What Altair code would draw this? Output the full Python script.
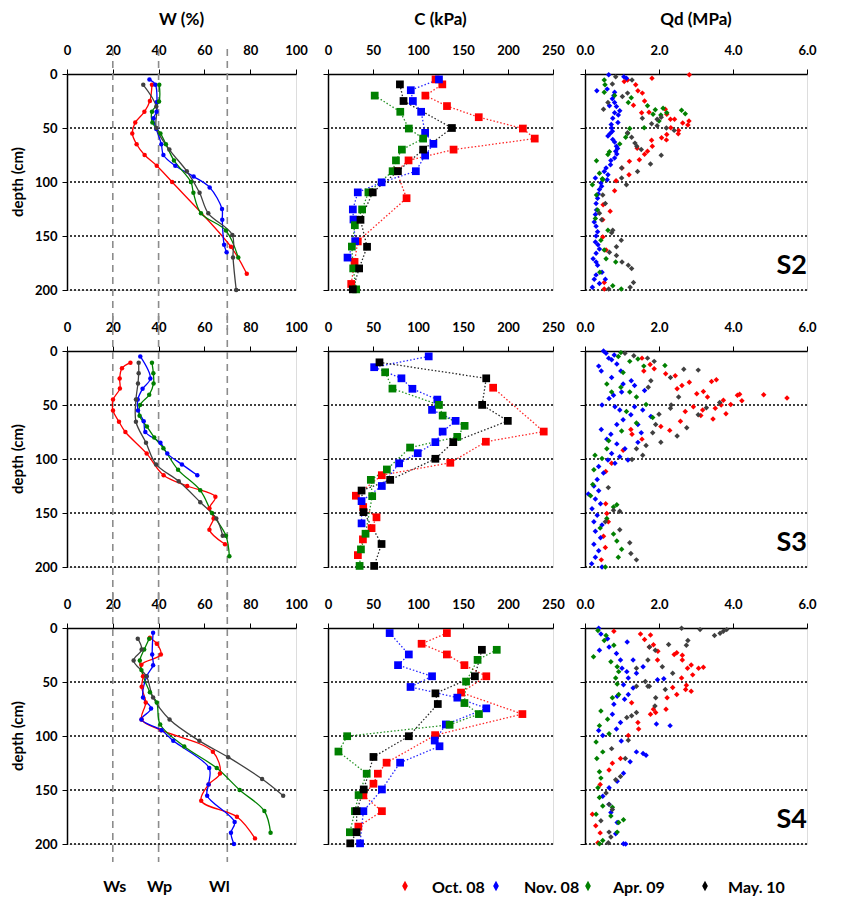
import altair as alt
import pandas as pd

FONT = "Lato"
SERIES = ["Oct. 08", "Nov. 08", "Apr. 09", "May. 10"]
COLORS = {
    "W": ["#FF0000", "#0000FF", "#008000", "#404040"],
    "C": ["#FF0000", "#0000FF", "#008000", "#000000"],
    "Q": ["#FF0000", "#0000FF", "#008000", "#404040"],
}
STATIONS = ["S2", "S3", "S4"]
COL_TITLES = {"W": "W (%)", "C": "C (kPa)", "Q": "Qd (MPa)"}
DEPTH_TICKS = [0, 50, 100, 150, 200]
GUIDE_DEPTHS = [50, 100, 150, 200]
X_TICKS = {"W": [0, 20, 40, 60, 80, 100], "C": [0, 50, 100, 150, 200, 250], "Q": [0, 2, 4, 6]}
X_DOMAIN = {"W": [0, 100], "C": [0, 250], "Q": [0, 6]}
X_FORMAT = {"W": "d", "C": "d", "Q": ".1f"}
W_LIMITS = [20, 40, 70]
W_LIMIT_LABELS = ["Ws", "Wp", "Wl"]

# ---------------- W (%) profiles: (value, depth) ----------------
s2_w_oct = [(37.1, 10), (36.2, 25), (33.8, 35), (29.8, 45), (28.5, 55), (30.4, 65), (33.9, 75),
            (39.2, 85), (45.9, 100), (71.6, 160), (78.5, 185)]
s2_w_nov = [(36.0, 5), (38.6, 10), (39.3, 26), (39.1, 35), (37.8, 41), (39.0, 51), (41.2, 65),
            (42.1, 75), (47.3, 85), (55.3, 95), (62.3, 105), (67.7, 125), (67.8, 135), (68.6, 158), (69.7, 165)]
s2_w_apr = [(40.3, 10), (40.2, 25.5), (37.1, 35), (37.3, 45), (40.8, 55), (43.2, 65), (46.7, 80),
            (54.1, 100), (55.2, 110), (58.5, 129), (69.4, 145), (74.8, 170)]
s2_w_may = [(33.3, 10), (39.0, 30), (39.0, 50), (44.7, 70), (52.3, 90), (57.9, 110), (61.7, 129),
            (72.2, 149), (72.5, 170), (73.9, 200)]

s3_w_oct = [(27.7, 10.8), (24.0, 16), (23.0, 25.5), (23.1, 34.8), (20.1, 45), (20.1, 55), (22.7, 65.5),
            (25.5, 75), (34.8, 95), (42.2, 115), (52.5, 125), (64.8, 135), (62.2, 145.5), (64.0, 155),
            (62.2, 165.5), (69.0, 179)]
s3_w_nov = [(32.0, 5), (36.4, 25.5), (33.0, 35), (30.9, 45), (31.0, 55), (33.5, 65), (34.2, 75),
            (40.8, 85), (43.8, 95), (50.2, 105), (56.9, 115)]
s3_w_apr = [(37.1, 10.8), (37.7, 20.6), (37.8, 30), (35.9, 40.6), (31.9, 50), (31.7, 60), (34.9, 70),
            (38.1, 80), (42.1, 90), (48.5, 110), (58.2, 129), (63.3, 150), (69.4, 171), (70.9, 190)]
s3_w_may = [(31.3, 10.8), (31.3, 20.6), (31.0, 30), (30.1, 45), (30.1, 65.5), (34.5, 85), (38.9, 105),
            (48.8, 120.6), (58.2, 140), (65.2, 155), (68.0, 171)]

s4_w_oct = [(36.2, 9), (39.2, 14.5), (41.0, 24.6), (32.5, 34), (33.2, 44.7), (32.6, 54.5), (34.4, 69),
            (32.6, 84.7), (41.1, 94.6), (63.7, 114.6), (66.8, 134.7), (61.9, 144.8), (58.6, 160),
            (74.2, 174.7), (82.1, 194.8)]
s4_w_nov = [(37.6, 4.3), (37.2, 24.6), (37.6, 34.5), (34.8, 44.7), (33.2, 64.4), (36.7, 74.6),
            (32.5, 84.7), (41.3, 94.6), (46.4, 104.5), (62.1, 129.7), (61.8, 144.8), (61.2, 155.3),
            (73.2, 179.7), (71.6, 189.5), (72.9, 200)]
s4_w_apr = [(35.9, 9.9), (33.7, 20), (31.8, 30), (32.5, 39), (36.2, 59.5), (39.2, 69), (40.7, 89.4),
            (51.2, 109.7), (65.4, 129.7), (75.4, 150), (86.2, 169.5), (88.9, 189.5)]
s4_w_may = [(30.9, 9.9), (32.6, 20), (29.1, 30), (34.7, 44.7), (37.6, 64.4), (44.8, 84.7),
            (57.8, 104.5), (70.4, 119.6), (85.2, 139.9), (94.4, 155.3)]

# ---------------- C (kPa) profiles ----------------
s2_c_oct = [(119.5, 5), (127.0, 9.6), (108.2, 20), (132.2, 29.7), (167.5, 40), (216.5, 50.5),
            (229.7, 59.8), (139.5, 70), (89.5, 80), (76.0, 90), (87.3, 115), (33.1, 155), (29.5, 174),
            (25.8, 194.4)]
s2_c_nov = [(123.3, 5), (92.0, 15), (94.3, 25), (103.5, 35), (107.9, 54.5), (117.1, 64.7), (107.9, 75.5),
            (97.6, 90), (59.6, 100.3), (33.1, 109.6), (27.6, 125.4), (28.3, 134.7), (30.2, 154.8),
            (21.7, 170)]
s2_c_apr = [(51.9, 20), (80.3, 35), (89.8, 50.5), (105.7, 59.8), (82.1, 70), (75.5, 80), (71.8, 90),
            (44.9, 109.6), (37.9, 125.4), (29.8, 140), (26.5, 159.8), (28.0, 180), (31.3, 199.4)]
s2_c_may = [(79.9, 9.6), (83.9, 25), (137.7, 50), (105.7, 70), (77.7, 90), (49.7, 109.6), (36.1, 135),
            (43.4, 160), (34.6, 180), (27.6, 199.4)]

s3_c_oct = [(183.5, 34), (239.7, 74.6), (175.4, 84), (135.9, 103.5), (59.8, 115), (31.0, 134),
            (39.1, 144.5), (53.9, 154), (48.4, 164), (38.8, 174.4), (33.2, 189)]
s3_c_nov = [(111.9, 5), (51.3, 15), (81.6, 25.3), (93.8, 35), (121.5, 45), (115.6, 54.5), (141.8, 64.7),
            (127.4, 74.6), (119.3, 84.4), (99.7, 94.6), (79.0, 104), (59.8, 125), (37.3, 139),
            (37.3, 159.6)]
s3_c_apr = [(63.5, 19.7), (71.6, 34.8), (123.3, 49.9), (127.4, 59.8), (151.8, 69.3), (143.6, 79.5),
            (91.2, 89.4), (65.4, 109.7), (47.6, 119.3), (49.1, 134.4), (41.7, 169.2), (36.6, 183.7),
            (35.1, 199)]
s3_c_may = [(57.2, 10.5), (175.8, 25.3), (171.3, 49.9), (199.8, 64.7), (139.2, 84.4), (119.3, 99.8),
            (69.1, 119.3), (37.3, 129.2), (39.5, 149.2), (59.5, 178.7), (51.3, 199)]

s4_c_oct = [(132.1, 4.7), (104.0, 14.6), (132.1, 24.5), (151.6, 34.4), (175.9, 44.7), (147.8, 59.8),
            (216.0, 79.7), (119.0, 99.2), (65.1, 124.7), (55.4, 134.9), (50.5, 144.2), (39.3, 155),
            (59.9, 169.6), (33.7, 183.9)]
s4_c_nov = [(68.5, 4.7), (89.8, 24.5), (77.8, 34.4), (115.6, 44.7), (91.7, 54.6), (143.7, 64.5),
            (175.9, 74.4), (131.0, 89.3), (118.6, 104.2), (123.9, 109.5), (80.1, 124.7), (59.9, 149.5),
            (39.3, 169.6), (35.6, 199.4)]
s4_c_apr = [(187.5, 20.2), (166.2, 29.5), (153.4, 49.6), (151.6, 69.5), (167.7, 79.7), (135.1, 89.6),
            (21.3, 100.2), (11.6, 114.4), (43.0, 134.9), (34.0, 154.7), (29.9, 169.6), (24.3, 189.1)]
s4_c_may = [(171.0, 20.2), (163.2, 44.7), (119.4, 60.5), (122.0, 70.4), (89.8, 100.2), (50.5, 119.4),
            (39.7, 149.5), (31.8, 169.6), (31.8, 189.1), (24.7, 199.4)]

# ---------------- Qd (MPa) penetrometer readings ----------------
s2_q_oct = [(2.82, 0.6), (1.81, 4), (1.06, 7), (1.15, 5.6), (1.37, 10), (1.43, 15.5), (1.55, 17.7),
            (1.61, 25), (1.31, 29), (2.17, 32.7), (1.53, 35.8), (1.73, 35.5), (2.21, 37.3), (2.31, 42),
            (2.42, 42), (2.81, 43.5), (2.64, 45.4), (2.78, 47.3), (2.32, 49.8), (2.53, 52.2), (2.52, 55.4),
            (2.21, 56), (2.07, 59), (2.2, 61), (1.8, 61.3), (1.82, 66.9), (1.41, 68.7), (1.69, 71.5),
            (1.61, 74.3), (1.47, 79.3), (1.2, 80.9), (1.0, 87), (1.19, 93.3), (0.84, 98.9), (0.80, 108),
            (0.49, 121), (0.68, 127), (0.48, 135), (0.48, 151), (0.57, 163), (0.52, 193), (0.52, 199)]
s2_q_nov = [(0.64, 0.6), (1.12, 4), (1.05, 2.5), (0.6, 14), (0.32, 15.5), (0.8, 17), (0.78, 20),
            (0.74, 23), (0.8, 26.4), (0.66, 29.5), (0.85, 30), (0.94, 34), (0.8, 35.8), (0.9, 38),
            (0.75, 41), (0.89, 45), (0.71, 46.7), (0.72, 50), (0.74, 53), (0.68, 55), (0.62, 57.5),
            (0.75, 60.7), (0.8, 63), (0.85, 66.9), (0.88, 69), (0.83, 71.5), (0.86, 74), (0.8, 77.8),
            (0.7, 80), (0.69, 84), (0.57, 87), (0.52, 90.2), (0.62, 93.3), (0.28, 96.4), (0.6, 98),
            (0.43, 101), (0.45, 104), (0.39, 107), (0.36, 111), (0.34, 115), (0.3, 120), (0.31, 126),
            (0.28, 130), (0.25, 137), (0.3, 141), (0.34, 146), (0.3, 150), (0.28, 155.5), (0.35, 158),
            (0.39, 162), (0.3, 166), (0.22, 171), (0.3, 174), (0.34, 177), (0.46, 183.5), (0.3, 186),
            (0.25, 190), (0.55, 190), (0.39, 194), (0.2, 197.5)]
s2_q_apr = [(0.52, 5.6), (0.54, 10), (0.52, 17), (0.8, 20), (1.25, 22), (1.17, 26.4), (1.69, 29.5),
            (2.11, 31.7), (1.9, 33), (2.21, 35.8), (2.61, 33.6), (2.71, 36.7), (1.84, 37.3), (2.05, 38),
            (2.0, 43.5), (1.6, 49.8), (1.21, 50.4), (1.15, 55), (1.1, 58.5), (0.94, 64.7), (0.66, 72),
            (0.62, 74.6), (0.31, 80.3), (0.39, 91.8), (0.47, 97), (0.48, 98), (0.2, 102.6), (0.31, 112),
            (0.34, 126), (0.28, 133.7), (0.62, 144.6), (0.43, 154), (0.52, 163), (0.57, 171),
            (0.83, 174), (0.4, 183.5), (0.75, 196), (0.98, 199)]
s2_q_may = [(0.83, 2.5), (1.27, 5.6), (0.74, 9.3), (1.15, 17.7), (1.01, 20.8), (0.62, 26.4), (0.5, 32.7),
            (1.55, 41), (2.06, 40), (1.95, 42), (1.8, 46), (1.95, 48), (2.2, 50), (2.41, 52.2),
            (1.15, 54.4), (1.26, 58.5), (1.35, 64), (1.4, 67), (1.52, 70), (2.06, 75.3), (1.77, 83.4),
            (0.99, 87), (1.42, 90.2), (0.99, 96.4), (1.12, 102.6), (0.48, 112), (0.55, 120), (0.39, 129),
            (0.45, 135), (0.75, 144.6), (0.72, 147), (0.98, 154), (0.85, 160), (0.66, 165), (0.85, 168),
            (1.0, 174), (1.17, 177), (1.26, 180), (1.31, 193), (1.22, 197.5), (0.64, 199)]

s3_q_oct = [(1.54, 6.6), (1.76, 12.6), (1.87, 16.5), (1.59, 18.6), (2.18, 21), (2.44, 23), (2.49, 35),
            (2.62, 32), (2.82, 29), (3.02, 39.6), (3.2, 37.5), (3.31, 42.6), (3.42, 28.2), (3.55, 26.7),
            (3.52, 53), (3.46, 63), (3.68, 50), (3.74, 45.6), (3.94, 49.5), (4.12, 41), (4.18, 40),
            (4.24, 46), (4.83, 40.5), (5.46, 43.5), (3.81, 58), (3.18, 54.6), (3.13, 59.7), (2.93, 51.6),
            (2.71, 56), (2.58, 65), (2.29, 73.5), (2.05, 70), (1.27, 77), (1.24, 72.6), (1.54, 81.6),
            (1.03, 92), (0.72, 104), (0.56, 111.5), (0.56, 141.5), (0.59, 150.5), (0.63, 158),
            (0.5, 171.5), (0.55, 182), (0.44, 193.4)]
s3_q_nov = [(0.5, 0), (0.57, 2), (0.64, 6.6), (0.72, 8), (0.79, 3.6), (0.37, 14), (0.44, 18.6),
            (0.72, 24.6), (0.86, 12), (0.97, 18.6), (1.25, 27.6), (1.34, 32), (1.03, 30.6), (0.99, 38),
            (0.77, 41), (0.65, 44), (0.46, 50), (0.81, 51.6), (0.94, 54.6), (1.34, 51.6), (1.56, 54.6),
            (1.78, 60.6), (1.24, 59), (1.03, 63.6), (0.86, 68), (0.44, 72.6), (0.7, 77), (0.59, 81.6),
            (0.86, 86), (1.08, 90.6), (0.72, 95), (0.94, 98), (0.62, 101), (0.81, 104), (0.37, 107),
            (0.5, 113), (0.33, 119), (0.24, 125), (0.37, 129.5), (0.09, 132.5), (0.28, 137),
            (0.42, 141.5), (0.19, 146), (0.33, 152), (0.24, 158), (0.46, 161), (0.28, 167), (0.42, 173),
            (0.24, 179), (0.37, 185), (0.28, 191), (0.18, 197), (0.46, 200), (1.43, 68), (1.52, 75.6),
            (1.43, 84.6), (1.16, 101), (1.61, 36.6)]
s3_q_apr = [(0.97, 1.5), (0.9, 5), (1.21, 9.6), (1.43, 7.5), (1.59, 14), (2.16, 13.5), (1.03, 20),
            (0.59, 30.6), (0.72, 38), (0.97, 33.6), (1.21, 38), (1.39, 42.6), (1.65, 49.5), (1.83, 61.5),
            (1.12, 56), (1.39, 66.6), (0.99, 74), (0.64, 83), (0.59, 90.6), (0.27, 96.5), (0.46, 99.6),
            (0.24, 110), (0.21, 123.5), (0.15, 134), (0.86, 142.4), (0.77, 144.5), (0.59, 155),
            (0.41, 164), (0.77, 169.4), (0.86, 176), (0.99, 183.5), (0.9, 191), (0.55, 200)]
s3_q_may = [(1.08, 2), (1.32, 4.5), (1.69, 6.6), (1.87, 9.6), (2.67, 17), (3.06, 17.7), (2.31, 24.6),
            (1.78, 27.6), (1.71, 33.6), (2.53, 42.6), (2.31, 53), (2.0, 58.5), (1.91, 68), (2.05, 84.5),
            (1.83, 75.6), (1.65, 87.6), (1.39, 90.6), (1.56, 96.5), (1.27, 100.4), (2.75, 71),
            (2.49, 78.6), (3.06, 59), (3.28, 52.5), (3.64, 47.7), (2.33, 50), (0.63, 126.5), (0.77, 147.5),
            (0.94, 148.4), (0.55, 158), (1.21, 177.5), (1.24, 187.4), (1.39, 193.4), (0.94, 165.6)]

s4_q_oct = [(0.78, 3), (1.5, 5.5), (1.77, 6.4), (1.61, 10.6), (1.74, 17.6), (1.85, 15.5), (1.97, 21.5),
            (1.96, 29.7), (2.41, 24.6), (2.48, 23), (2.63, 25.2), (2.63, 29.7), (2.77, 37.3), (2.87, 34.3),
            (3.07, 37.3), (3.2, 36.4), (2.91, 43.4), (2.61, 46.4), (2.37, 55), (2.48, 61.6), (2.74, 53),
            (2.87, 58.6), (2.72, 57), (2.22, 64.6), (2.19, 75.3), (1.91, 78.3), (1.85, 75.3), (1.77, 79.8),
            (1.43, 87.4), (1.45, 93.5), (1.26, 69.3), (1.17, 99.5), (0.96, 120.8), (0.74, 125.3),
            (0.65, 131.4), (0.41, 145), (0.2, 172.4), (0.29, 183), (0.41, 189.7), (0.35, 198.8)]
s4_q_nov = [(0.37, 0.3), (0.43, 5.5), (0.61, 10), (0.39, 20.6), (0.65, 17.6), (1.14, 13), (0.85, 23.7),
            (0.96, 29.7), (1.0, 37.3), (1.13, 40.4), (1.3, 29.7), (1.57, 35.8), (1.39, 41.9), (1.17, 46.4),
            (1.04, 52.5), (1.3, 55.5), (0.87, 63.1), (1.17, 61.6), (0.78, 70.7), (0.74, 79.8), (0.96, 87.4),
            (0.85, 93.5), (0.37, 95), (0.48, 99.5), (0.98, 104.7), (1.93, 88.9), (2.3, 90.4), (1.39, 114.7),
            (1.65, 117.8), (1.57, 116.2), (1.22, 123.8), (1.04, 134.4), (0.87, 142), (0.65, 148),
            (0.48, 155.7), (0.65, 163.3), (0.7, 170.9), (0.87, 180), (0.83, 190.6), (1.04, 199.7),
            (1.1, 200), (1.07, 66), (1.96, 48), (2.13, 47)]
s4_q_apr = [(0.35, 2.4), (0.57, 7), (0.52, 11.5), (0.78, 16), (0.23, 26.7), (0.7, 31.3), (0.87, 35.8),
            (0.91, 40.4), (0.83, 46.4), (0.87, 51.9), (0.91, 61.6), (0.74, 64.6), (0.43, 76.8),
            (0.61, 84.4), (0.39, 90.4), (0.65, 98), (0.3, 105.6), (0.48, 114.7), (0.32, 120.8),
            (0.39, 133), (0.43, 139), (0.35, 148), (0.39, 157), (0.48, 164.8), (0.3, 172.4), (0.7, 174),
            (0.91, 180), (1.04, 177.5), (0.87, 189), (0.48, 196.7), (0.39, 199.7), (0.74, 166)]
s4_q_may = [(2.61, 0.3), (3.11, 1.5), (3.5, 7), (3.65, 4.9), (3.74, 3), (3.83, 1.5), (2.26, 15.2),
            (2.78, 11.5), (2.74, 16), (1.74, 17.6), (1.9, 20.6), (1.7, 29.7), (1.39, 37.3), (2.09, 35.8),
            (2.37, 41.9), (1.63, 49.5), (1.74, 54), (2.17, 57), (1.91, 64.6), (1.89, 72.2), (1.39, 78.3),
            (1.26, 81.3), (1.13, 82.9), (1.17, 104), (0.72, 111.7), (1.09, 120.8), (0.96, 137.5),
            (0.83, 140.5), (0.57, 152.7), (0.65, 163.3), (0.74, 168), (0.43, 178.5), (0.65, 189),
            (0.7, 193.6), (0.63, 198.8), (1.39, 54), (1.7, 54)]

DATA = {
    ("S2", "W"): [s2_w_oct, s2_w_nov, s2_w_apr, s2_w_may],
    ("S3", "W"): [s3_w_oct, s3_w_nov, s3_w_apr, s3_w_may],
    ("S4", "W"): [s4_w_oct, s4_w_nov, s4_w_apr, s4_w_may],
    ("S2", "C"): [s2_c_oct, s2_c_nov, s2_c_apr, s2_c_may],
    ("S3", "C"): [s3_c_oct, s3_c_nov, s3_c_apr, s3_c_may],
    ("S4", "C"): [s4_c_oct, s4_c_nov, s4_c_apr, s4_c_may],
    ("S2", "Q"): [s2_q_oct, s2_q_nov, s2_q_apr, s2_q_may],
    ("S3", "Q"): [s3_q_oct, s3_q_nov, s3_q_apr, s3_q_may],
    ("S4", "Q"): [s4_q_oct, s4_q_nov, s4_q_apr, s4_q_may],
}

PW = {"W": 229, "C": 225, "Q": 222}
PH = 216


def make_df(lists, key):
    rows = []
    for k, (name, pts) in enumerate(zip(SERIES, lists)):
        for v, d in pts:
            rows.append({"val": v, "depth": d, key: name, "k": k})
    return pd.DataFrame(rows)


def panel(kind, r):
    st = STATIONS[r]
    w = PW[kind]
    key = "series_" + kind
    df = make_df(DATA[(st, kind)], key)
    xaxis = alt.Axis(orient="top", values=X_TICKS[kind], format=X_FORMAT[kind], title=None, grid=False,
                     labelFont=FONT, labelFontWeight="bold", labelFontSize=13, labelColor="black",
                     labelPadding=12, tickSize=5, tickColor="black", domainColor="black", domainWidth=1.5,
                     labelFlush=False, labelOverlap=False)
    yaxis = alt.Axis(values=DEPTH_TICKS, labels=(kind == "W"), title=None, grid=False,
                     labelFont=FONT, labelFontWeight="bold", labelFontSize=13, labelColor="black",
                     labelPadding=5, tickSize=5, tickColor="black", domainColor="black", domainWidth=1.5)
    X = alt.X("val:Q", scale=alt.Scale(domain=X_DOMAIN[kind], nice=False, zero=False), axis=xaxis)
    Y = alt.Y("depth:Q", scale=alt.Scale(domain=[0, 200], reverse=True, nice=False, zero=False), axis=yaxis)
    color = alt.Color(key + ":N", scale=alt.Scale(domain=SERIES, range=COLORS[kind]), legend=None)

    layers = []
    layers.append(alt.Chart(pd.DataFrame({"depth": GUIDE_DEPTHS})).mark_rule(
        color="black", strokeDash=[2, 2], strokeWidth=1.6).encode(y=Y))

    if kind == "W":
        top = -25 if r == 0 else -35
        bot = PH + 18 if r == 2 else PH + 40
        layers.append(alt.Chart(pd.DataFrame({"val": W_LIMITS})).mark_rule(
            color="#8c8c8c", strokeDash=[7, 5], strokeWidth=1.6).encode(
            x=X, y=alt.value(top), y2=alt.value(bot)))
        layers.append(alt.Chart(df).mark_line(strokeWidth=1.3, interpolate="catmull-rom").encode(
            x=X, y=Y, color=color, order="depth:Q", detail=key + ":N"))
        layers.append(alt.Chart(df).mark_circle(size=20, opacity=1).encode(x=X, y=Y, color=color))
    elif kind == "C":
        layers.append(alt.Chart(df).mark_line(strokeWidth=1.3, strokeDash=[1.5, 2], opacity=0.85).encode(
            x=X, y=Y, color=color, order="depth:Q", detail=key + ":N"))
        layers.append(alt.Chart(df).mark_square(size=60, opacity=1).encode(x=X, y=Y, color=color))
    else:
        layers.append(alt.Chart(df).mark_point(shape="diamond", filled=True, size=30, opacity=1).encode(
            x=X, y=Y, color=color, order="k:Q"))
        layers.append(alt.Chart(pd.DataFrame({"val": [6.0], "depth": [178], "t": [st]})).mark_text(
            font=FONT, fontWeight="bold", fontSize=27, align="right", baseline="middle", color="black").encode(
            x=X, y=Y, text="t:N"))

    if r == 0:
        layers.append(alt.Chart(pd.DataFrame({"t": [COL_TITLES[kind]]})).mark_text(
            font=FONT, fontWeight="bold", fontSize=17, align="center", baseline="middle", color="black").encode(
            text="t:N", x=alt.value(w / 2), y=alt.value(-54)))
    if kind == "W":
        layers.append(alt.Chart(pd.DataFrame({"t": ["depth (cm)"]})).mark_text(
            font=FONT, fontWeight="bold", fontSize=15, align="center", baseline="middle", angle=270,
            color="black").encode(text="t:N", x=alt.value(-49), y=alt.value(PH / 2)))
    if kind == "W" and r == 2:
        for v, t, dx in zip(W_LIMITS, W_LIMIT_LABELS, [2, 1, -8]):
            layers.append(alt.Chart(pd.DataFrame({"val": [v], "t": [t]})).mark_text(
                font=FONT, fontWeight="bold", fontSize=16, align="center", baseline="middle", color="black",
                dx=dx).encode(x=X, text="t:N", y=alt.value(PH + 43)))
    if kind == "C" and r == 2:
        leg = pd.DataFrame({"series_L": SERIES, "mx": [77, 168, 260, 377], "tx": [104, 196, 285, 400]})
        layers.append(alt.Chart(leg).mark_point(
            shape="M0,-1L0.55,0L0,1L-0.55,0Z", filled=True, size=110, opacity=1).encode(
            x=alt.X("mx:Q", scale=None), y=alt.value(PH + 42),
            color=alt.Color("series_L:N", scale=alt.Scale(domain=SERIES, range=COLORS["Q"]), legend=None)))
        layers.append(alt.Chart(leg).mark_text(
            font=FONT, fontWeight="bold", fontSize=16, align="left", baseline="middle", color="black").encode(
            x=alt.X("tx:Q", scale=None), y=alt.value(PH + 44), text="series_L:N"))

    return alt.layer(*layers).properties(width=w, height=PH)


panels = [panel(kind, r) for r in range(3) for kind in ["W", "C", "Q"]]

chart = alt.concat(*panels, columns=3, spacing={"row": 61, "column": 32}, bounds="flush", align="each").properties(
    padding={"left": 2, "top": 2, "right": 5, "bottom": 5}
).resolve_scale(color="independent").configure_view(stroke=None).configure(background="white")

chart.save("out.html", embed_options={"renderer": "svg", "actions": False})
